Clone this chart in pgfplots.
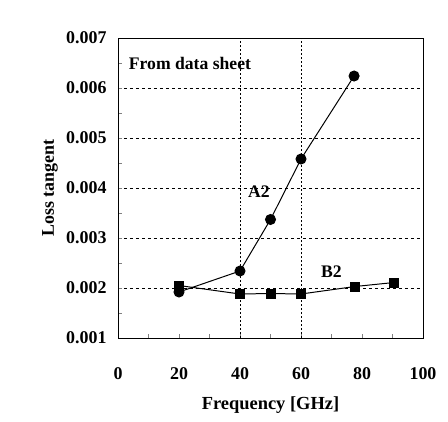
\documentclass[border=0pt]{standalone}
\usepackage{pgfplots}
\pgfplotsset{compat=1.18}
\usepackage{graphicx}
\usepackage{fontspec}
\setmainfont{Liberation Serif}
\begin{document}
\begin{tikzpicture}[x=1bp,y=1bp]
\begin{axis}[
  at={(0,0)}, anchor=south west,
  scale only axis, width=305bp, height=300bp,
  xmin=0, xmax=100, ymin=0.001, ymax=0.007,
  xtick={0,20,...,100},
  ytick={0.001,0.002,0.003,0.004,0.005,0.006,0.007},
  minor x tick num=1, minor y tick num=1,
  tick align=inside, xtick pos=bottom, ytick pos=left,
  major tick length=4bp, minor tick length=4bp,
  scaled y ticks=false,
  /pgf/number format/assume math mode=true,
  yticklabel style={xshift=-8bp, /pgf/number format/fixed, /pgf/number format/precision=3, /pgf/number format/fixed zerofill},
  ticklabel style={font=\fontsize{18}{21}\selectfont\bfseries},
  xticklabel style={yshift=-26bp},
  ymajorgrids, major grid style={black, dash pattern=on 3pt off 3pt, line width=0.6pt},
  axis line style={black, line width=0.8pt},
  xlabel={Frequency [GHz]},
  xlabel style={font=\fontsize{18.5}{21}\selectfont\bfseries, yshift=-10bp},
  clip=false,
]
\draw[black, dash pattern=on 2pt off 2pt, line width=0.6pt] (axis cs:40,0.001) -- (axis cs:40,0.007);
\draw[black, dash pattern=on 2pt off 2pt, line width=0.6pt] (axis cs:60,0.001) -- (axis cs:60,0.007);
\addplot[black, line width=1pt, mark=*, mark size=5bp] coordinates {
 (20,0.00192) (40,0.00234) (50,0.00337) (60,0.00458) (77.4,0.00624)};
\addplot[black, line width=1pt, mark=square*, mark size=4.5bp] coordinates {
 (20,0.00205) (40,0.00188) (50,0.00189) (60,0.00188) (77.7,0.00203) (90.5,0.00211)};
\node[font=\fontsize{17.7}{20}\selectfont\bfseries] at (axis cs:23.6,0.0065) {From data sheet};
\node[font=\fontsize{17.7}{20}\selectfont\bfseries] at (axis cs:46.2,0.00392) {A2};
\node[font=\fontsize{17.7}{20}\selectfont\bfseries] at (axis cs:70,0.00232) {B2};
\end{axis}
\node[font=\fontsize{18}{21}\selectfont\bfseries] at (-68,150) {\rotatebox{90}{Loss tangent}};
\path[use as bounding box] (-118,-83) rectangle (330,338);
\end{tikzpicture}
\end{document}
